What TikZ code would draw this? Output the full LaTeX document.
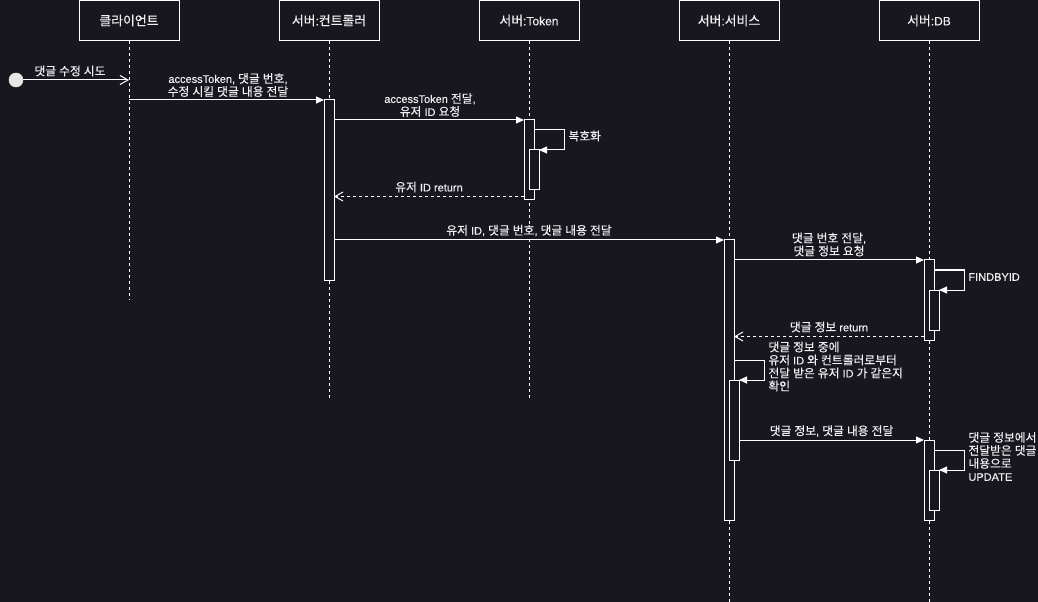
\documentclass[tikz,border=0pt]{standalone}
\usepackage{fontspec}
\setmainfont{Liberation Sans}
\newfontfamily\latfont{Liberation Sans}[FakeBold=0.3]
\newfontfamily\krfont{Noto Sans CJK KR}[Scale=1.07,FakeBold=0.35]
\usetikzlibrary{arrows.meta}
\XeTeXinterchartokenstate=1
\newXeTeXintercharclass\hgclass
\newcount\hgcnt
\hgcnt="AC00
\loop \XeTeXcharclass\hgcnt=\hgclass \advance\hgcnt 1 \ifnum\hgcnt<"D7A4 \repeat
\XeTeXinterchartoks 0 \hgclass={\begingroup\krfont}
\XeTeXinterchartoks 4095 \hgclass={\begingroup\krfont}
\XeTeXinterchartoks \hgclass 0={\endgroup}
\XeTeXinterchartoks \hgclass 4095={\endgroup}
\definecolor{bg}{RGB}{24,22,31}
\definecolor{fg}{RGB}{240,240,240}
\tikzset{
  hdr/.style={draw=white, fill=bg, line width=0.75pt, minimum width=75pt, minimum height=30pt, inner sep=0pt, text=fg, font=\latfont\fontsize{9pt}{11pt}\selectfont},
  lifel/.style={draw=white, line width=0.75pt, dash pattern=on 2.25pt off 2.25pt},
  act/.style={draw=white, fill=bg, line width=0.75pt, minimum width=7.5pt, minimum height=#1*0.75pt, inner sep=0pt, outer sep=0pt},
  msg/.style={draw=white, line width=0.75pt, -{Triangle[length=6pt,width=5.25pt]}},
  ret/.style={draw=white, line width=0.75pt, dash pattern=on 2.25pt off 2.25pt, -{Straight Barb[length=6pt,width=6.75pt]}},
  openmsg/.style={draw=white, line width=0.75pt, -{Straight Barb[length=6pt,width=6.75pt]}},
  lbl/.style={text=fg, font=\latfont\fontsize{8.25pt}{9.75pt}\selectfont, inner sep=0.5pt, fill=bg, align=center},
  lbll/.style={lbl, align=left, anchor=west},
}
\begin{document}
\begin{tikzpicture}[x=0.75pt,y=-0.75pt]
\useasboundingbox[fill=bg] (0,0) rectangle (1038,602);
% headers
\node[hdr] (hC) at (129,20.5) {클라이언트};
\node[hdr] (hK) at (329,20.5) {서버:컨트롤러};
\node[hdr] (hT) at (529,20.5) {서버:Token};
\node[hdr] (hS) at (729,20.5) {서버:서비스};
\node[hdr] (hD) at (929,20.5) {서버:DB};
% lifeline ends
\coordinate (eC) at (129,300);
\coordinate (eK) at (329,398);
\coordinate (eT) at (529,398);
\coordinate (eS) at (729,602);
\coordinate (eD) at (929,602);
\draw[lifel] (hC.south) -- (eC);
\draw[lifel] (hK.south) -- (eK);
\draw[lifel] (hT.south) -- (eT);
\draw[lifel] (hS.south) -- (eS);
\draw[lifel] (hD.south) -- (eD);
% activations
\node[act=180] (cA) at (329,190) {};
\node[act=80] (tA) at (529,160) {};
\node[act=40] (tB) at (534,170) {};
\node[act=280] (sA) at (729,380) {};
\node[act=80] (sB) at (734,420) {};
\node[act=80] (dA) at (929,300) {};
\node[act=40] (dB) at (934,310) {};
\node[act=80] (dC) at (929,480) {};
\node[act=40] (dD) at (934,490) {};
% start
\node[circle, fill=fg!92!gray, draw=fg!92!gray, minimum size=10.5pt, inner sep=0pt] (st) at (16,80) {};
\coordinate (m1e) at (129,80);
\draw[openmsg] (st.east) -- (m1e);
\node[lbl] (l1) at (70,71) {댓글 수정 시도};
% m2
\draw[msg] (hC.south |- cA.north) -- (cA.north west);
\node[lbl] (l2) at (228,85) {accessToken, 댓글 번호,\\수정 시킬 댓글 내용 전달};
% m3
\draw[msg] (cA.east |- tA.north) -- (tA.north west);
\node[lbl] (l3) at (430,105) {accessToken 전달,\\유저 ID 요청};
% self token
\coordinate (tS1) at (564.5,130);
\draw[msg] (tA.east |- tS1) -- (tS1) |- (tB.north east);
\node[lbll] (l4) at (567.5,136) {복호화};
% return 1
\coordinate (r1) at (524,196.5);
\draw[ret] (tA.west |- r1) -- (cA.east |- r1);
\node[lbl] (l5) at (429,187) {유저 ID return};
% m4
\draw[msg] (cA.east |- sA.north) -- (sA.north west);
\node[lbl] (l6) at (529,230.5) {유저 ID, 댓글 번호, 댓글 내용 전달};
% m5
\draw[msg] (sA.east |- dA.north) -- (dA.north west);
\node[lbl] (l7) at (829,244.5) {댓글 번호 전달,\\댓글 정보 요청};
% self db 1
\coordinate (dS1) at (964.5,270);
\draw[msg] (dA.east |- dS1) -- (dS1) |- (dB.north east);
\node[lbll] (l8) at (967.5,277) {FINDBYID};
% return 2
\coordinate (r2) at (924,336.5);
\draw[ret] (dA.west |- r2) -- (sA.east |- r2);
\node[lbl] (l9) at (829,327) {댓글 정보 return};
% self service
\coordinate (sS1) at (764.5,360);
\draw[msg] (sA.east |- sS1) -- (sS1) |- (sB.north east);
\node[lbll, fill=none] (l10) at (767.5,366.5) {댓글 정보 중에\\유저 ID 와 컨트롤러로부터\\전달 받은 유저 ID 가 같은지\\확인};
% m6
\draw[msg] (sB.east |- dC.north) -- (dC.north west);
\node[lbl] (l11) at (831.5,431) {댓글 정보, 댓글 내용 전달};
% self db 2
\coordinate (dS2) at (964.5,450);
\draw[msg] (dC.east |- dS2) -- (dS2) |- (dD.north east);
\node[lbll, fill=none] (l12) at (967.5,456.5) {댓글 정보에서\\전달받은 댓글\\내용으로\\UPDATE};
\end{tikzpicture}
\end{document}
